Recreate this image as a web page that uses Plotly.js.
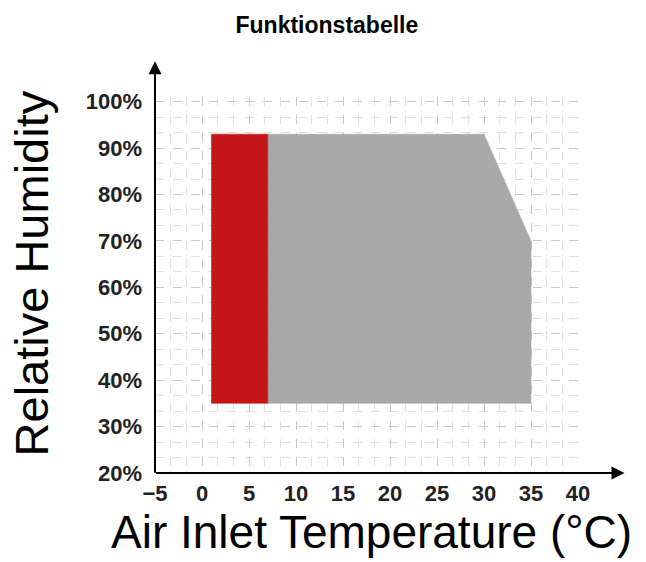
<!DOCTYPE html>
<html><head><meta charset="utf-8">
<script src="https://cdn.plot.ly/plotly-3.0.1.min.js"></script>
<style>html,body{margin:0;padding:0;background:#fff}#chart{width:646px;height:562px}</style>
</head><body><div id="chart"></div>
<script>
// Operating area boundaries (temperature °C, relative humidity %)
const redTemp = [1, 1, 7, 7, 1];
const redHum = [35, 93, 93, 35, 35];
const grayTemp = [7, 7, 30, 35, 35, 7];
const grayHum = [35, 93, 93, 70, 35, 35];
const xTicks = [-5, 0, 5, 10, 15, 20, 25, 30, 35, 40];
const yTicks = [20, 30, 40, 50, 60, 70, 80, 90, 100];
const yTickText = yTicks.map(v => v + '%');

const traces = [
  {x: grayTemp, y: grayHum, type: 'scatter', mode: 'lines', fill: 'toself',
   fillcolor: '#a9a9a9', line: {color: '#a9a9a9', width: 0.5}, hoverinfo: 'skip'},
  {x: redTemp, y: redHum, type: 'scatter', mode: 'lines', fill: 'toself',
   fillcolor: '#c41518', line: {color: '#c41518', width: 0.5}, hoverinfo: 'skip'}
];

const FAM = 'Liberation Sans, Arial, sans-serif';
const tickFont = {family: FAM, size: 22, color: '#222', weight: 'bold'};
const layout = {
  width: 646, height: 562,
  margin: {l: 155, r: 68, t: 97, b: 89},
  paper_bgcolor: '#fff', plot_bgcolor: '#fff',
  showlegend: false,
  title: {text: '<b>Funktionstabelle</b>', x: 0.506, xref: 'container', xanchor: 'center',
          y: 0.955, yref: 'container', yanchor: 'middle',
          font: {family: FAM, size: 23, color: '#000'}},
  xaxis: {range: [-5, 40], tickvals: xTicks, ticks: '', showline: false, zeroline: false,
          showgrid: true, gridcolor: '#c8c8c8', griddash: 'dash', gridwidth: 1,
          minor: {dtick: 5/3, tick0: -5, showgrid: true, gridcolor: '#e0e0e0', griddash: 'dash', gridwidth: 1},
          tickfont: tickFont, ticklabelstandoff: 5},
  yaxis: {range: [20, 101], tickvals: yTicks, ticktext: yTickText, ticks: '', showline: false, zeroline: false,
          showgrid: true, gridcolor: '#c8c8c8', griddash: 'dash', gridwidth: 1,
          minor: {dtick: 10/3, tick0: 20, showgrid: true, gridcolor: '#e0e0e0', griddash: 'dash', gridwidth: 1},
          tickfont: tickFont, ticklabelstandoff: 12},
  annotations: [
    {xref: 'paper', yref: 'y', x: 1.11, y: 20, ax: -470, ay: 0, axref: 'pixel', ayref: 'pixel',
     text: '', showarrow: true, arrowhead: 2, arrowsize: 1.3, arrowwidth: 2, arrowcolor: '#000'},
    {xref: 'x', yref: 'paper', x: -5, y: 1.095, ax: 0, ay: 413, axref: 'pixel', ayref: 'pixel',
     text: '', showarrow: true, arrowhead: 2, arrowsize: 1.3, arrowwidth: 2, arrowcolor: '#000'},
    {xref: 'paper', yref: 'paper', x: 0.513, y: -0.158, xanchor: 'center', yanchor: 'middle',
     showarrow: false, text: 'Air Inlet Temperature (°C)', font: {family: FAM, size: 46, color: '#000'}},
    {xref: 'paper', yref: 'paper', x: -0.292, y: 0.532, xanchor: 'center', yanchor: 'middle',
     textangle: -90, showarrow: false, text: 'Relative Humidity', font: {family: FAM, size: 47, color: '#000'}}
  ]
};
Plotly.newPlot('chart', traces, layout, {displayModeBar: false, staticPlot: true});
</script></body></html>
